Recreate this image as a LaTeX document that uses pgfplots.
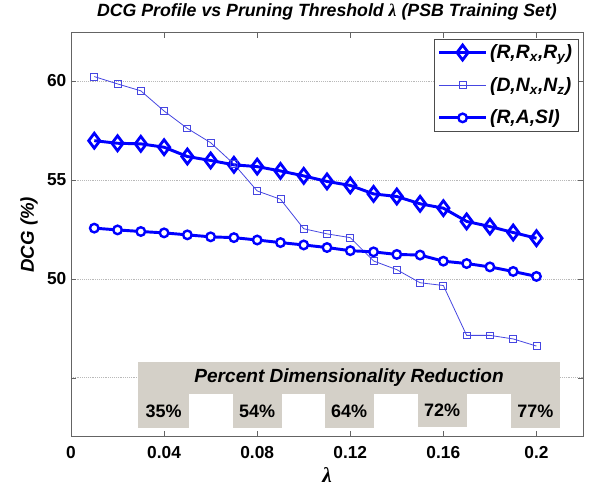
\documentclass[border=0pt]{standalone}
\usepackage{fontspec}
\setmainfont{Liberation Sans}
\newfontfamily\lamfont{Liberation Serif}
\usepackage{pgfplots}
\pgfplotsset{compat=1.18}
\definecolor{boxgray}{RGB}{212,208,200}
\definecolor{sqblue}{RGB}{70,70,225}
\definecolor{axgray}{RGB}{100,100,100}
\pgfplotsset{
  longlegend/.style={legend image code/.code={\draw[mark repeat=2,mark phase=2,##1] plot coordinates {(0pt,0pt) (17.5pt,0pt) (35pt,0pt)};}},
}
\begin{document}
\begin{tikzpicture}
\begin{axis}[
  scale only axis, width=384pt, height=303pt,
  xmin=0, xmax=0.22, ymin=42.02, ymax=62.44,
  xtick={0,0.04,0.08,0.12,0.16,0.2},
  xticklabels={0,0.04,0.08,0.12,0.16,0.2},
  ytick={45,50,55,60}, yticklabels={{},50,55,60},
  tick align=inside, major tick length=4pt,
  axis line style={draw=axgray}, every tick/.append style={draw=axgray},
  ymajorgrids, grid style={densely dotted, gray!55},
  tick label style={font=\fontsize{13}{15}\selectfont\bfseries},
  xticklabel style={yshift=-3.5pt},
  title={\fontsize{13.3}{16}\selectfont\bfseries\itshape DCG Profile vs Pruning Threshold {\lamfont λ} (PSB Training Set)},
  xlabel={\fontsize{16}{18}\selectfont\bfseries\itshape\lamfont λ},
  ylabel={\fontsize{14}{16}\selectfont\bfseries\itshape DCG (\%)},
  legend style={at={(0.992,0.9845)}, anchor=north east,
    font=\fontsize{14.5}{17}\selectfont\bfseries\itshape, draw=black!70, row sep=8.5pt},
  legend cell align=left,
  longlegend,
]
\addplot[fill=boxgray, draw=none, forget plot] coordinates {(0.029,44.2) (0.210,44.2) (0.210,45.78) (0.029,45.78)};
\addplot[fill=boxgray, draw=none, forget plot] coordinates {(0.029,42.45) (0.0505,42.45) (0.0505,44.22) (0.029,44.22)};
\addplot[fill=boxgray, draw=none, forget plot] coordinates {(0.0695,42.45) (0.0905,42.45) (0.0905,44.22) (0.0695,44.22)};
\addplot[fill=boxgray, draw=none, forget plot] coordinates {(0.109,42.45) (0.130,42.45) (0.130,44.22) (0.109,44.22)};
\addplot[fill=boxgray, draw=none, forget plot] coordinates {(0.149,42.5) (0.170,42.5) (0.170,44.22) (0.149,44.22)};
\addplot[fill=boxgray, draw=none, forget plot] coordinates {(0.189,42.45) (0.210,42.45) (0.210,44.22) (0.189,44.22)};
\node[font=\fontsize{14.3}{17}\selectfont\bfseries\itshape] at (axis cs:0.1195,45.02) {Percent Dimensionality Reduction};
\node[font=\fontsize{13.5}{16}\selectfont\bfseries] at (axis cs:0.0398,43.28) {35\%};
\node[font=\fontsize{13.5}{16}\selectfont\bfseries] at (axis cs:0.0800,43.28) {54\%};
\node[font=\fontsize{13.5}{16}\selectfont\bfseries] at (axis cs:0.1195,43.28) {64\%};
\node[font=\fontsize{13.5}{16}\selectfont\bfseries] at (axis cs:0.1595,43.36) {72\%};
\node[font=\fontsize{13.5}{16}\selectfont\bfseries] at (axis cs:0.1995,43.28) {77\%};
\addplot[blue, line width=2.2pt, mark=diamond, mark size=5.6pt, mark options={solid, line width=2.1pt, fill=white}] coordinates {
(0.01,56.98) (0.02,56.85) (0.03,56.82) (0.04,56.65) (0.05,56.18) (0.06,55.98) (0.07,55.76) (0.08,55.67) (0.09,55.45) (0.10,55.20)
(0.11,54.92) (0.12,54.72) (0.13,54.29) (0.14,54.16) (0.15,53.79) (0.16,53.57) (0.17,52.90) (0.18,52.64) (0.19,52.34) (0.20,52.05)};
\addlegendentry{{(R,R\textsubscript{x},R\textsubscript{y})}}
\addplot[sqblue, line width=0.6pt, mark=square, mark size=2.6pt, mark options={solid, line width=0.6pt, fill=white}] coordinates {
(0.01,60.22) (0.02,59.85) (0.03,59.50) (0.04,58.48) (0.05,57.60) (0.06,56.88) (0.07,55.80) (0.08,54.44) (0.09,54.02) (0.10,52.53)
(0.11,52.27) (0.12,52.08) (0.13,50.90) (0.14,50.46) (0.15,49.80) (0.16,49.66) (0.17,47.14) (0.18,47.14) (0.19,46.96) (0.20,46.60)};
\addlegendentry{{(D,N\textsubscript{x},N\textsubscript{z})}}
\addplot[blue, line width=2.2pt, mark=*, mark size=3.2pt, mark options={solid, line width=1.8pt, fill=white}] coordinates {
(0.01,52.56) (0.02,52.47) (0.03,52.39) (0.04,52.32) (0.05,52.22) (0.06,52.12) (0.07,52.08) (0.08,51.96) (0.09,51.83) (0.10,51.71)
(0.11,51.58) (0.12,51.42) (0.13,51.36) (0.14,51.23) (0.15,51.20) (0.16,50.89) (0.17,50.77) (0.18,50.60) (0.19,50.37) (0.20,50.12)};
\addlegendentry{{(R,A,SI)}}
\end{axis}
\pgfresetboundingbox
\path (current axis.south west) ++(-53.25pt,-40pt) rectangle ++(442.5pt,367.5pt);
\end{tikzpicture}
\end{document}
